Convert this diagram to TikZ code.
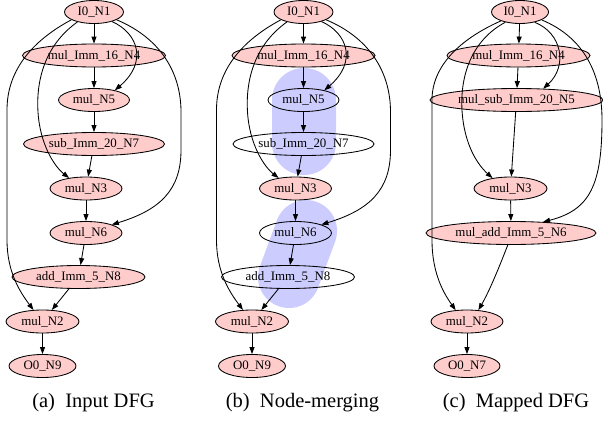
\documentclass[tikz,border=0pt]{standalone}
\usepackage{fontspec}
\setmainfont{Liberation Serif}
\usetikzlibrary{shapes.geometric,arrows.meta}
\definecolor{nodepink}{RGB}{255,204,204}
\definecolor{mergeblue}{RGB}{204,204,255}
\newcommand\dfgpanel[2]{%
  \node[pk, sz={59}{23}]  (#1n1) at (94,12)      {I0\_N1};
  \node[pk, sz={143}{23}] (#1n4) at (94,55.5)    {mul\_Imm\_16\_N4};
  \node[#2, sz={71}{23}]  (#1n5) at (94,100)     {mul\_N5};
  \node[#2, sz={141}{23}] (#1n7) at (94,144)     {sub\_Imm\_20\_N7};
  \node[pk, sz={72}{23}]  (#1n3) at (86,188.5)   {mul\_N3};
  \node[#2, sz={72}{23}]  (#1n6) at (86,233)     {mul\_N6};
  \node[#2, sz={133}{23}] (#1n8) at (78.5,277)   {add\_Imm\_5\_N8};
  \node[pk, sz={73}{23}]  (#1n2) at (42.5,321.5) {mul\_N2};
  \node[pk, sz={67}{23}]  (#1n9) at (42.5,366)   {O0\_N9};
  \draw[edge] (#1n1) -- (#1n4);
  \draw[edge] (#1n4) -- (#1n5);
  \draw[edge] (#1n5) -- (#1n7);
  \draw[edge] (#1n7) -- (#1n3);
  \draw[edge] (#1n3) -- (#1n6);
  \draw[edge] (#1n6) -- (#1n8);
  \draw[edge] (#1n8) -- (#1n2);
  \draw[edge] (#1n2) -- (#1n9);
  \draw[edge] (#1n1.199) .. controls (30,42) and (7,72) .. (7,110) -- (7,240)
      .. controls (7,272) and (20,292) .. (#1n2.128);
  \draw[edge] (#1n1.211) .. controls (45,45) and (36,80) .. (38,112)
      .. controls (40,145) and (55,167) .. (#1n3.148);
  \draw[edge] (#1n1.332) .. controls (138,33) and (148,62) .. (#1n5.25);
  \draw[edge] (#1n1.341) .. controls (160,38) and (181,72) .. (181,112) -- (181,150)
      .. controls (181,190) and (160,210) .. (#1n6.18);
}
\begin{document}
\begin{tikzpicture}[x=1pt,y=-1pt,
  dfg/.style={ellipse, draw=black, line width=0.85pt, inner sep=0pt,
    font=\fontsize{12.9}{14}\selectfont},
  pk/.style={dfg, fill=nodepink},
  wh/.style={dfg},
  edge/.style={draw=black, line width=0.85pt, -{Triangle[length=7pt,width=5pt]}},
  captxt/.style={inner sep=0pt, font=\fontsize{20.5}{24}\selectfont},
  sz/.style 2 args={minimum width=#1pt, minimum height=#2pt},
  merge/.style={fill=mergeblue}
]
\useasboundingbox (0,0) rectangle (603,421);

% panel (a)
\dfgpanel{a}{pk}

% panel (b): merge regions
\fill[merge, rounded corners=31.9pt] (272,68) rectangle (336,175);
\fill[merge, rotate around={-20.3:(297.5,254)}, rounded corners=30.9pt]
  (266.5,198.5) rectangle (328.5,309.5);
\begin{scope}[xshift=209.5pt]
\dfgpanel{b}{wh}
\end{scope}

% panel (c)
\node[pk, sz={57}{23}]  (c1) at (520,12)      {I0\_N1};
\node[pk, sz={143}{23}] (c4) at (518.5,55.5)  {mul\_Imm\_16\_N4};
\node[pk, sz={173}{23}] (c5) at (516.5,100)   {mul\_sub\_Imm\_20\_N5};
\node[pk, sz={73}{23}]  (c3) at (510.5,188.5) {mul\_N3};
\node[pk, sz={170}{23}] (c6) at (511,233)     {mul\_add\_Imm\_5\_N6};
\node[pk, sz={72}{23}]  (c2) at (467,321.5)   {mul\_N2};
\node[pk, sz={66}{23}]  (c7) at (467,366)     {O0\_N7};
\draw[edge] (c1) -- (c4);
\draw[edge] (c4) -- (c5);
\draw[edge] (c5) -- (c3);
\draw[edge] (c3) -- (c6);
\draw[edge] (c2) -- (c7);
\draw[edge] (c1.205) .. controls (460,39) and (432,66) .. (432,100) -- (432,240)
    .. controls (432,275) and (445,295) .. (c2.135);
\draw[edge] (c1.215) .. controls (472,40) and (460,75) .. (462,110)
    .. controls (464,145) and (478,165) .. (c3.150);
\draw[edge] (c1.325) .. controls (562,33) and (568,66) .. (c5.23);
\draw[edge] (c1.340) .. controls (585,38) and (602,75) .. (602,120)
    .. controls (602,185) and (590,210) .. (c6.19);
\draw[edge] (c6.255) .. controls (500,265) and (490,290) .. (c2.45);

% captions
\node[captxt] (capa) at (93.5,403)  {(a)\ \ Input DFG};
\node[captxt] (capb) at (302.5,403) {(b)\ \ Node-merging};
\node[captxt] (capc) at (516,403)   {(c)\ \ Mapped DFG};
\end{tikzpicture}
\end{document}
